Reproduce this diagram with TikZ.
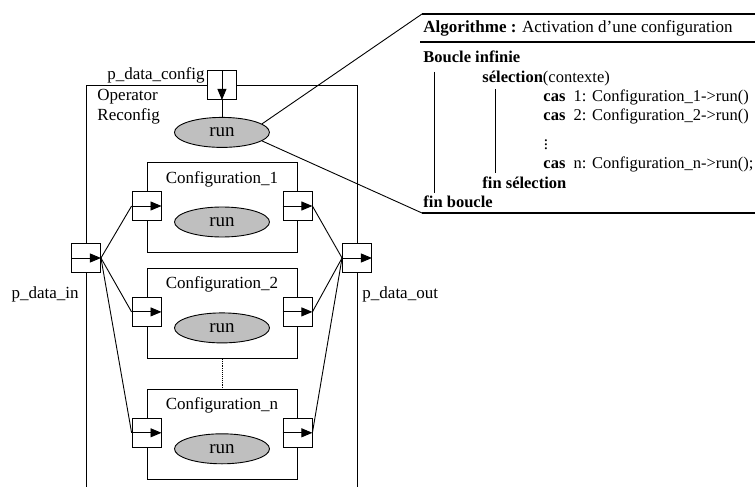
\documentclass[tikz,border=0pt]{standalone}
\usepackage{fontspec}
\setmainfont{Liberation Serif}
\usetikzlibrary{arrows.meta,positioning,shapes.geometric}

\begin{document}
\begin{tikzpicture}[
    x=1pt, y=-1pt,
    font=\fontsize{17}{20}\selectfont,
    line width=0.9pt,
    box/.style={draw, minimum width=150pt, minimum height=90pt, inner sep=0pt},
    port/.style={draw, fill=white, minimum width=29pt, minimum height=29pt, inner sep=0pt},
    run/.style={draw, ellipse, fill=black!25, minimum width=95pt, minimum height=30pt,
                inner sep=0pt, font=\fontsize{19}{20}\selectfont},
    flow/.style={-{Triangle[length=11pt,width=9pt]}},
    lbl/.style={inner sep=0pt},
    algo/.style={inner sep=0pt, anchor=base west, font=\fontsize{16.5}{20}\selectfont},
    rule/.style={line width=1.1pt}
]
\useasboundingbox (0,0) rectangle (755,487);
\clip (0,0) rectangle (755,487);

% operator
\node[draw, anchor=north west, minimum width=271pt, minimum height=430pt] (op) at (86,85) {};
\node[lbl, anchor=north west, align=left] (opname) at (97,89) {Operator\\Reconfig};
\node[port] (pcfg) at (op.north) {};
\node[lbl, anchor=base east] (pcfglbl) at (205,79) {p\_data\_config};
\node[run, below=17pt of pcfg] (run0) {run};

% configurations
\node[box, anchor=north] (cfg1) at (222,162) {};
\node[box, below=15pt of cfg1] (cfg2) {};
\node[box, below=30pt of cfg2] (cfgn) {};

\node[lbl, anchor=base] (cfg1lbl) at ([yshift=-21pt]cfg1.north) {Configuration\_1};
\node[run] (run1) at ([yshift=-60pt]cfg1.north) {run};
\node[port] (in1) at ([yshift=-44pt]cfg1.north west) {};
\node[port] (out1) at ([yshift=-44pt]cfg1.north east) {};

\node[lbl, anchor=base] (cfg2lbl) at ([yshift=-21pt]cfg2.north) {Configuration\_2};
\node[run] (run2) at ([yshift=-60pt]cfg2.north) {run};
\node[port] (in2) at ([yshift=-44pt]cfg2.north west) {};
\node[port] (out2) at ([yshift=-44pt]cfg2.north east) {};

\node[lbl, anchor=base] (cfgnlbl) at ([yshift=-21pt]cfgn.north) {Configuration\_n};
\node[run] (runn) at ([yshift=-60pt]cfgn.north) {run};
\node[port] (inn) at ([yshift=-44pt]cfgn.north west) {};
\node[port] (outn) at ([yshift=-44pt]cfgn.north east) {};

% data ports
\node[port] (pin) at (86,258) {};
\node[port] (pout) at (357,258) {};
\node[lbl, anchor=base east] (pinlbl) at (79,298) {p\_data\_in};
\node[lbl, anchor=base west] (poutlbl) at (362,298) {p\_data\_out};

\draw[flow] (pcfg.north) -- (pcfg.south);
\foreach \p in {pin,pout,in1,out1,in2,out2,inn,outn}
    \draw[flow] (\p.west) -- (\p.east);

\draw (pcfg) -- (run0);
\draw (pin.east) -- (in1.west);
\draw (pin.east) -- (in2.west);
\draw (pin.east) -- (inn.west);
\draw (out1.east) -- (pout.west);
\draw (out2.east) -- (pout.west);
\draw (outn.east) -- (pout.west);
\draw[densely dotted] (cfg2) -- (cfgn);

% algorithm callout
\coordinate (ctop) at (422,14);
\coordinate (ctopr) at (755,14);
\coordinate (cbot) at (422,213);
\coordinate (cbotr) at (755,213);
\coordinate (sepl) at (420,42);
\coordinate (sepr) at (755,42);
\draw (run0.12) -- (ctop);
\draw (run0.348) -- (cbot);
\draw[rule] (ctop) -- (ctopr);
\draw[rule] (sepl) -- (sepr);
\draw[rule] (cbot) -- (cbotr);

\node[lbl, anchor=base west] (title) at (423,33) {\textbf{Algorithme :} Activation d’une configuration};
\node[algo] (loop) at (423,63) {\textbf{Boucle infinie}};
\node[algo] (sel) at (482,82) {\textbf{sélection}(contexte)};
\node[algo] (cas1) at (543,102) {\textbf{cas}\ \ 1: Configuration\_1->run()};
\node[algo] (cas2) at (543,121) {\textbf{cas}\ \ 2: Configuration\_2->run()};
\node[lbl] (casdots) at (546,142) {$\vdots$};
\node[algo] (casn) at (543,168) {\textbf{cas}\ \ n: Configuration\_n->run();};
\node[algo] (endsel) at (482,188) {\textbf{fin sélection}};
\node[algo] (endloop) at (423,207) {\textbf{fin boucle}};
\draw (434,72) -- (434,193);
\draw (495,89) -- (495,173);
\end{tikzpicture}
\end{document}
